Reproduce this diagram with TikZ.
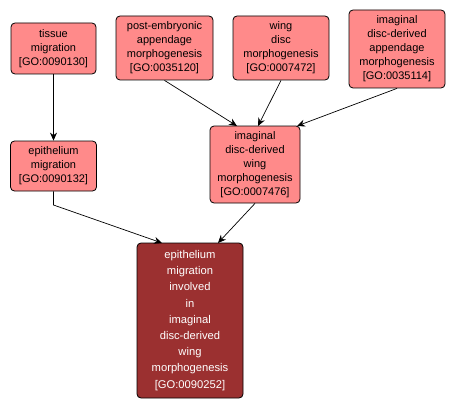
\documentclass[tikz,border=0pt]{standalone}
\usepackage{fontspec}
\setmainfont{Liberation Sans}
\usetikzlibrary{arrows.meta}
\definecolor{goPink}{RGB}{255,138,138}
\definecolor{goRed}{RGB}{155,48,48}
\tikzset{
  gobox/.style={draw=black, line width=0.8pt, rounded corners=4pt, fill=goPink, align=center, inner sep=0pt,
    font=\fontsize{11}{14}\selectfont},
  gomain/.style={gobox, fill=goRed, text=white, font=\fontsize{11.2}{16.2}\selectfont},
  goedge/.style={draw=black, line width=0.7pt, -{Stealth[length=8pt,width=7pt]}}
}
\begin{document}
\begin{tikzpicture}[x=1pt,y=-1pt]
\useasboundingbox (0,0) rectangle (457,409);
\node[gobox, minimum width=85pt, minimum height=51pt] (tm) at (53.5,48.5) {tissue\\migration\\{[GO:0090130]}};
\node[gobox, minimum width=97pt, minimum height=64pt] (pe) at (164.5,48) {post-embryonic\\appendage\\morphogenesis\\{[GO:0035120]}};
\node[gobox, minimum width=96pt, minimum height=64pt] (wd) at (281,48) {wing\\disc\\morphogenesis\\{[GO:0007472]}};
\node[gobox, minimum width=96pt, minimum height=78pt] (ia) at (397,49) {imaginal\\disc-derived\\appendage\\morphogenesis\\{[GO:0035114]}};
\node[gobox, minimum width=86pt, minimum height=50pt] (em) at (53.5,166) {epithelium\\migration\\{[GO:0090132]}};
\node[gobox, minimum width=90pt, minimum height=77pt] (iw) at (255,164.5) {imaginal\\disc-derived\\wing\\morphogenesis\\{[GO:0007476]}};
\node[gomain, minimum width=106pt, minimum height=155pt] (ep) at (190,320.5) {epithelium\\migration\\involved\\in\\imaginal\\disc-derived\\wing\\morphogenesis\\{[GO:0090252]}};
\coordinate (iwA) at (237,126);
\coordinate (iwB) at (258,126);
\coordinate (iwC) at (297,126);
\coordinate (epA) at (162,243);
\coordinate (epB) at (218,243);
\coordinate (b1) at (53.5,205);
\draw[goedge] (tm.south) -- (em.north);
\draw[goedge] (pe.south) -- (iwA);
\draw[goedge] (wd.south) -- (iwB);
\draw[goedge] (ia.south) -- (iwC);
\draw[goedge] (em.south) -- (b1) -- (epA);
\draw[goedge] (iw.south) -- (epB);
\end{tikzpicture}
\end{document}
